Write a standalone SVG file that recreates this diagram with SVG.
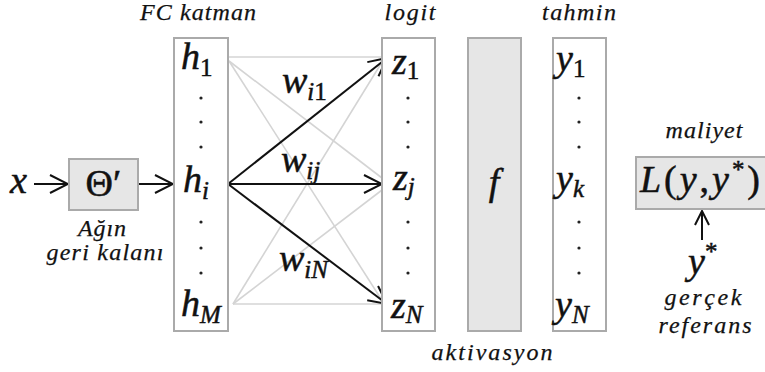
<svg xmlns="http://www.w3.org/2000/svg" width="765" height="372" viewBox="0 0 765 372">
<style>
.box{fill:#fff;stroke:#aaa;stroke-width:2}
.gbox{fill:#e6e6e6;stroke:#aaa;stroke-width:2}
.lbl{font-family:"Liberation Serif","Times New Roman",serif;font-style:italic;font-size:24px;fill:#111;stroke:#111;stroke-width:0.25}
.m{font-family:"Liberation Serif","Times New Roman",serif;font-style:italic;font-size:38px;fill:#111;stroke:#111;stroke-width:0.5}
.s{font-size:25px}
.up{font-style:normal}
.gl{stroke:#d4d4d4;stroke-width:1.6;fill:none}
.bl{stroke:#111;stroke-width:2;fill:none}
.dot{fill:#222}
</style>
<defs>
<marker id="ah" viewBox="0 0 20 20" refX="19" refY="10" markerWidth="20" markerHeight="20" markerUnits="userSpaceOnUse" orient="auto">
<path d="M1,1 L19,10 L1,19" fill="none" stroke="#111" stroke-width="2"/>
</marker>
<marker id="ahs" viewBox="0 0 16 16" refX="15" refY="8" markerWidth="16" markerHeight="16" markerUnits="userSpaceOnUse" orient="auto">
<path d="M1,1 L15,8 L1,15" fill="none" stroke="#111" stroke-width="2"/>
</marker>
</defs>

<g id="connectors">
<line class="gl" x1="228" y1="57" x2="382" y2="57"/>
<line class="gl" x1="233" y1="304" x2="382" y2="304"/>
<line class="gl" x1="229" y1="61" x2="382" y2="178"/>
<line class="gl" x1="229" y1="61" x2="383" y2="302"/>
<line class="gl" x1="233" y1="304" x2="382" y2="62"/>
<line class="gl" x1="233" y1="304" x2="382" y2="190"/>
<line class="bl" x1="34" y1="184" x2="68" y2="184" marker-end="url(#ah)"/>
<line class="bl" x1="139" y1="184" x2="173" y2="184" marker-end="url(#ah)"/>
<line class="bl" x1="228" y1="184" x2="387" y2="58" marker-end="url(#ah)"/>
<line class="bl" x1="228" y1="184" x2="382" y2="184" marker-end="url(#ah)"/>
<line class="bl" x1="228" y1="184" x2="387" y2="304" marker-end="url(#ah)"/>
<line class="bl" x1="702" y1="240" x2="702" y2="211" marker-end="url(#ahs)"/>
</g>

<g id="input-x">
<text class="m" x="10" y="193" textLength="17" lengthAdjust="spacingAndGlyphs">x</text>
</g>

<g id="theta">
<rect class="gbox" x="69" y="159" width="69" height="51"/>
<text class="m up" x="103.5" y="196" text-anchor="middle" font-size="31">Θ′</text>
<text class="lbl" x="102" y="236" text-anchor="middle" textLength="48" lengthAdjust="spacing">Ağın</text>
<text class="lbl" x="105" y="260" text-anchor="middle" textLength="117" lengthAdjust="spacing">geri kalanı</text>
</g>

<g id="fc-layer">
<text class="lbl" x="198" y="20" text-anchor="middle" textLength="116" lengthAdjust="spacing">FC katman</text>
<rect class="box" x="174" y="38" width="54" height="293"/>
<text class="m" x="181" y="69">h<tspan class="s up" dy="7">1</tspan></text>
<circle class="dot" cx="201" cy="98" r="1.6"/>
<circle class="dot" cx="201" cy="122" r="1.6"/>
<circle class="dot" cx="201" cy="147" r="1.6"/>
<text class="m" x="183" y="192">h<tspan class="s" dy="7">i</tspan></text>
<circle class="dot" cx="201" cy="222" r="1.6"/>
<circle class="dot" cx="201" cy="248" r="1.6"/>
<circle class="dot" cx="201" cy="273" r="1.6"/>
<text class="m" x="181" y="316">h<tspan class="s" dy="7">M</tspan></text>
</g>

<g id="weights">
<text class="m" x="282" y="93">w<tspan class="s" dy="7">i</tspan><tspan class="s up">1</tspan></text>
<text class="m" x="281" y="172">w<tspan class="s" dy="7">ij</tspan></text>
<text class="m" x="279" y="271">w<tspan class="s" dy="7">iN</tspan></text>
</g>

<g id="logit">
<text class="lbl" x="410" y="20" text-anchor="middle" textLength="51" lengthAdjust="spacing">logit</text>
<rect class="box" x="382" y="38" width="53" height="293"/>
<text class="m" x="392" y="74">z<tspan class="s up" dy="5">1</tspan></text>
<circle class="dot" cx="408" cy="98" r="1.6"/>
<circle class="dot" cx="408" cy="122" r="1.6"/>
<circle class="dot" cx="408" cy="147" r="1.6"/>
<text class="m" x="393" y="190">z<tspan class="s" dy="5">j</tspan></text>
<circle class="dot" cx="408" cy="222" r="1.6"/>
<circle class="dot" cx="408" cy="248" r="1.6"/>
<circle class="dot" cx="408" cy="273" r="1.6"/>
<text class="m" x="391" y="318">z<tspan class="s" dy="5">N</tspan></text>
</g>

<g id="activation">
<rect class="gbox" x="468" y="38" width="53" height="293"/>
<text class="m" x="494" y="195" text-anchor="middle">f</text>
<text class="lbl" x="492" y="360" text-anchor="middle" textLength="121" lengthAdjust="spacing">aktivasyon</text>
</g>

<g id="prediction">
<text class="lbl" x="579" y="20" text-anchor="middle" textLength="74" lengthAdjust="spacing">tahmin</text>
<rect class="box" x="553" y="38" width="53" height="293"/>
<text class="m" x="556" y="71">y<tspan class="s up" dy="6">1</tspan></text>
<circle class="dot" cx="579" cy="98" r="1.6"/>
<circle class="dot" cx="579" cy="122" r="1.6"/>
<circle class="dot" cx="579" cy="147" r="1.6"/>
<text class="m" x="556" y="191">y<tspan class="s" dy="6">k</tspan></text>
<circle class="dot" cx="579" cy="222" r="1.6"/>
<circle class="dot" cx="579" cy="248" r="1.6"/>
<circle class="dot" cx="579" cy="273" r="1.6"/>
<text class="m" x="555" y="317">y<tspan class="s" dy="6">N</tspan></text>
</g>

<g id="cost">
<text class="lbl" x="704" y="138" text-anchor="middle" textLength="77" lengthAdjust="spacing">maliyet</text>
<rect class="gbox" x="636" y="157" width="130" height="52"/>
<text class="m" x="640" y="192" textLength="120" lengthAdjust="spacing">L<tspan class="up">(</tspan>y<tspan class="up">,</tspan>y<tspan class="s up" dy="-14">*</tspan><tspan class="up" dy="14">)</tspan></text>
</g>

<g id="ground-truth">
<text class="m" x="688" y="274">y<tspan class="s up" dy="-14">*</tspan></text>
<text class="lbl" x="703" y="305" text-anchor="middle" textLength="77" lengthAdjust="spacing">gerçek</text>
<text class="lbl" x="705" y="333" text-anchor="middle" textLength="93" lengthAdjust="spacing">referans</text>
</g>
</svg>
